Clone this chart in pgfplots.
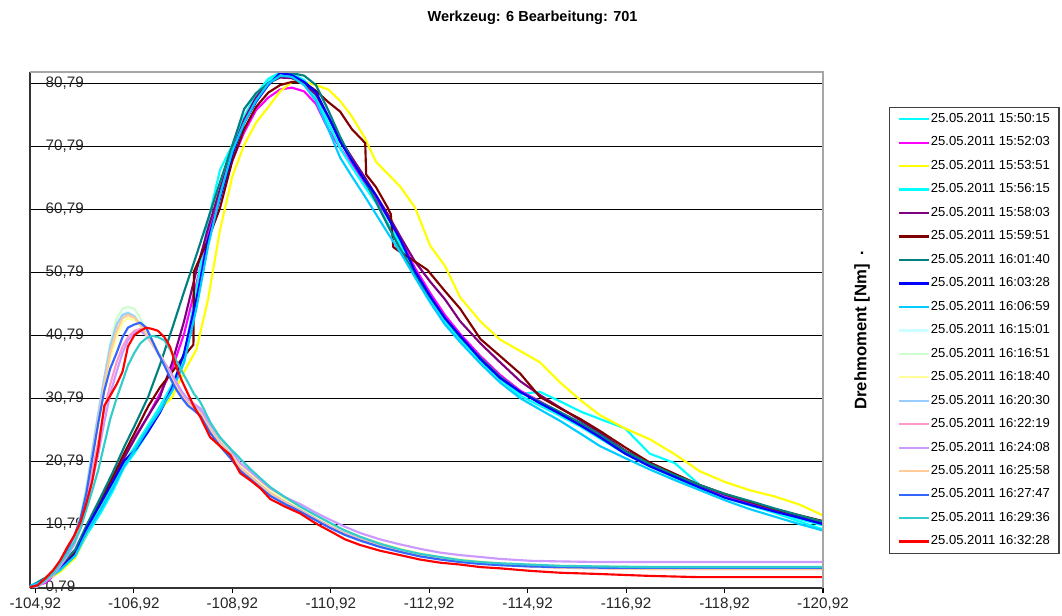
\documentclass[border=0pt]{standalone}
\usepackage{fontspec}
\setmainfont{Liberation Sans}
\usepackage{pgfplots}
\usepackage{pgfplotstable}
\pgfplotsset{compat=1.18}

\definecolor{cA}{HTML}{00FFFF}
\definecolor{cMag}{HTML}{FF00FF}
\definecolor{cYel}{HTML}{FFFF00}
\definecolor{cB}{HTML}{00FFFF}
\definecolor{cPur}{HTML}{800080}
\definecolor{cDred}{HTML}{800000}
\definecolor{cTeal}{HTML}{008080}
\definecolor{cBlue}{HTML}{0000FF}
\definecolor{cSky}{HTML}{00CCFF}
\definecolor{cLcyan}{HTML}{CCFFFF}
\definecolor{cLgreen}{HTML}{CCFFCC}
\definecolor{cLyel}{HTML}{FFFF99}
\definecolor{cLblue}{HTML}{99CCFF}
\definecolor{cPink}{HTML}{FF99CC}
\definecolor{cLav}{HTML}{CC99FF}
\definecolor{cPeach}{HTML}{FFCC99}
\definecolor{cRoyal}{HTML}{3366FF}
\definecolor{cTurq}{HTML}{33CCCC}
\definecolor{cRed}{HTML}{FF0000}

\pgfplotstableread{
x cyanA magenta yellow cyanB purple teal blue sky
-104.81 0.9 0.6 0.8 1.0 0.8 0.9 0.8 1.0
-105.12 1.8 1.5 1.9 2.0 2.1 2.3 2.0 1.9
-105.42 3.4 3.5 3.2 3.6 3.9 4.2 3.8 3.5
-105.73 5.6 6.0 5.5 5.8 6.3 6.8 6.0 5.8
-105.97 9.2 10.2 9.5 9.8 10.5 10.8 10.3 9.6
-106.24 12.5 14.0 13.5 13.2 14.3 15.0 14.0 13.0
-106.49 16.0 17.8 17.0 16.8 17.8 19.0 17.5 16.5
-106.72 19.8 21.5 20.5 20.5 21.3 23.0 20.8 20.0
-106.97 22.5 25.0 23.5 23.5 24.8 27.0 22.8 23.0
-107.21 25.5 28.0 26.5 26.5 28.0 31.0 25.5 26.0
-107.45 28.8 31.5 29.0 29.5 31.0 36.1 28.5 28.8
-107.70 32.0 35.5 31.0 33.0 36.5 41.9 32.5 32.0
-107.94 36.5 41.0 35.0 37.5 43.0 47.7 38.0 36.5
-108.19 46.0 49.0 38.5 48.0 51.0 53.5 46.5 45.0
-108.43 56.5 56.5 46.6 59.0 57.8 59.3 56.0 55.0
-108.67 63.5 63.0 57.5 67.0 64.0 65.1 62.5 63.0
-108.92 69.5 68.5 66.0 71.0 70.0 70.9 69.5 70.0
-109.16 74.5 73.0 71.0 75.5 75.0 76.7 74.5 74.5
-109.40 78.3 76.5 74.5 79.0 78.5 79.2 77.8 78.0
-109.65 81.0 78.5 77.0 81.5 80.8 80.7 80.5 80.7
-109.89 82.4 79.8 79.5 82.5 81.7 81.9 82.4 82.0
-110.13 82.2 80.1 81.0 82.3 81.6 82.4 82.1 81.8
-110.38 81.0 79.5 81.0 81.3 80.7 82.0 81.0 80.5
-110.62 78.5 77.5 80.5 79.0 79.0 80.5 79.4 78.0
-110.87 74.5 73.5 79.8 74.5 75.5 76.5 75.5 73.5
-111.11 70.5 70.5 78.0 70.5 72.0 72.3 71.5 69.0
-111.35 67.5 68.0 75.5 67.5 69.0 68.5 68.5 66.0
-111.60 64.8 65.2 72.3 64.5 66.0 65.5 65.5 63.0
-111.84 62.0 62.5 68.3 61.8 63.0 62.0 63.0 60.0
-112.08 58.5 59.5 66.4 58.5 60.0 58.2 59.5 57.0
-112.33 55.5 56.2 64.4 55.0 56.5 54.5 56.0 54.0
-112.63 51.0 51.5 61.1 50.5 52.5 50.5 51.0 50.0
-112.94 47.0 47.5 55.0 46.5 49.3 46.8 47.0 46.0
-113.24 43.3 44.0 51.8 43.0 46.5 43.5 43.5 42.5
-113.55 40.5 41.0 46.8 40.2 43.0 40.5 40.7 39.7
-113.96 37.0 37.5 43.0 36.8 39.5 37.2 37.0 36.3
-114.36 34.0 34.5 40.1 33.8 36.5 34.2 34.0 33.3
-114.77 31.5 32.0 38.3 31.2 33.5 31.8 31.8 30.8
-115.17 31.8 30.3 36.5 29.6 31.3 30.2 30.0 29.0
-115.58 30.3 28.5 33.3 28.0 29.3 28.6 28.3 27.2
-115.99 28.7 26.8 30.5 26.3 27.3 26.9 26.5 25.2
-116.39 27.5 24.7 28.1 24.4 25.3 25.0 24.6 23.2
-116.90 26.0 22.2 26.0 22.0 22.5 22.4 22.0 21.3
-117.40 22.0 20.2 24.3 20.0 20.5 20.4 20.0 19.5
-117.91 20.5 18.5 21.9 18.2 18.7 18.6 18.3 17.8
-118.42 17.0 16.8 19.2 16.5 17.0 17.0 16.6 16.2
-118.93 15.2 15.2 17.5 15.0 15.5 15.6 15.0 14.6
-119.43 13.8 14.0 16.2 13.8 14.3 14.5 13.9 13.2
-119.94 12.6 12.9 15.2 12.7 13.2 13.3 12.8 12.0
-120.45 11.2 11.9 13.9 11.6 12.1 12.2 11.8 10.8
-120.92 10.0 10.9 12.2 10.6 11.1 11.2 10.8 9.8
}\groupA

\pgfplotstableread{
x y
-104.81 0.8
-105.12 2.2
-105.42 4.0
-105.73 6.5
-105.97 10.5
-106.24 14.5
-106.49 18.3
-106.72 22.0
-106.97 25.8
-107.21 29.5
-107.45 32.5
-107.70 35.0
-107.94 37.5
-108.13 39.3
-108.14 50.9
-108.43 56.0
-108.67 61.0
-108.92 68.5
-109.16 73.5
-109.40 77.0
-109.65 79.3
-109.89 80.5
-110.13 81.0
-110.38 80.9
-110.62 79.6
-110.87 77.8
-111.11 76.3
-111.35 73.5
-111.62 71.3
-111.64 66.3
-111.84 64.3
-112.08 61.0
-112.14 60.0
-112.19 54.8
-112.33 54.0
-112.63 52.5
-112.88 51.2
-113.24 47.8
-113.55 45.0
-113.96 40.2
-114.36 37.5
-114.77 34.7
-115.17 31.0
-115.58 29.2
-115.99 27.5
-116.39 25.6
-116.90 23.0
-117.40 20.6
-117.91 18.8
-118.42 17.0
-118.93 15.6
-119.43 14.4
-119.94 13.2
-120.45 12.2
-120.92 11.3
}\darkred

\pgfplotstableread{
x lcyan lgreen lyel lblue pink lav peach royal turq red
-104.81 0.8 0.9 0.8 0.8 0.7 0.8 0.8 0.9 0.8 0.8
-104.96 1.0 1.1 1.0 1.0 0.9 0.9 1.0 1.1 1.0 1.1
-105.12 2.0 2.2 1.9 2.0 1.8 1.7 2.0 2.1 1.9 2.2
-105.28 3.2 3.4 3.0 3.2 2.9 2.8 3.2 3.3 3.0 3.5
-105.42 4.8 5.0 4.5 4.8 4.3 4.1 4.7 5.0 4.5 5.0
-105.57 6.5 6.8 6.2 6.5 6.0 5.8 6.5 6.8 6.2 7.2
-105.71 8.5 8.8 8.2 8.5 8.0 7.6 8.5 9.0 8.0 9.0
-105.83 11.5 12.0 11.0 11.5 10.5 10.0 11.3 11.5 10.0 11.0
-105.95 16.0 16.5 15.2 16.0 14.5 13.5 15.5 15.5 13.0 14.0
-106.07 22.0 22.5 20.5 22.0 19.0 17.5 21.0 21.0 16.0 17.5
-106.20 28.5 28.5 26.5 28.5 24.0 22.0 27.5 27.0 19.5 23.0
-106.32 34.0 34.0 32.0 34.0 29.0 27.0 33.0 32.0 23.5 29.6
-106.44 39.0 39.5 37.0 39.0 33.0 31.5 38.0 35.5 27.5 31.2
-106.57 42.5 43.5 40.5 42.5 36.5 35.0 41.5 38.0 30.8 33.0
-106.69 44.2 45.0 42.8 44.0 39.0 38.0 43.5 40.5 33.5 35.0
-106.80 44.5 45.3 43.5 44.3 40.5 40.0 44.0 42.0 36.0 39.0
-106.93 43.8 45.0 43.2 43.8 41.5 41.2 43.6 42.5 38.0 40.8
-107.05 42.5 43.5 42.3 42.5 41.8 41.5 42.5 42.8 39.5 41.5
-107.17 41.0 41.8 41.0 41.0 41.0 40.8 41.0 42.0 40.3 42.0
-107.29 39.5 40.0 39.6 39.5 39.5 39.5 39.5 40.0 40.7 41.8
-107.41 38.0 38.3 38.2 38.0 38.0 38.0 38.0 38.0 40.5 41.5
-107.54 36.3 36.5 36.6 36.3 36.3 36.5 36.2 36.0 40.0 40.5
-107.66 34.5 34.7 35.0 34.5 34.6 35.0 34.4 34.0 38.5 38.9
-107.78 32.8 33.0 33.3 32.5 32.8 33.4 32.6 32.2 36.8 35.8
-107.90 31.3 31.5 31.7 31.0 31.2 31.8 31.0 30.8 35.0 33.5
-108.02 30.2 30.3 30.5 30.0 30.0 30.6 29.9 29.6 33.3 31.5
-108.14 29.5 29.6 29.8 29.6 29.4 29.9 29.3 28.9 31.5 29.5
-108.27 28.6 28.8 29.0 28.8 28.5 29.2 28.4 28.0 30.2 27.8
-108.47 26.0 26.2 26.5 26.0 25.8 26.7 25.8 25.3 27.0 24.6
-108.67 23.8 24.0 24.3 23.8 23.6 24.5 23.6 23.2 24.6 23.2
-108.88 22.0 22.2 22.5 22.0 21.8 22.7 21.8 21.3 22.8 21.8
-109.08 19.8 20.0 20.3 19.6 19.7 20.5 19.6 19.3 21.2 18.9
-109.28 18.5 18.6 18.9 18.4 18.4 19.2 18.3 18.0 19.6 17.8
-109.49 17.1 17.2 17.5 17.0 17.0 17.8 16.9 16.6 18.1 16.5
-109.69 15.8 15.9 16.2 15.6 15.7 16.5 15.6 15.3 16.7 14.8
-109.99 14.4 14.5 14.8 14.3 14.3 15.1 14.2 14.0 15.1 13.6
-110.30 13.1 13.2 13.5 13.0 13.0 14.0 12.9 12.8 13.6 12.5
-110.60 11.8 11.9 12.2 11.7 11.7 12.7 11.6 11.5 12.3 11.0
-110.91 10.5 10.6 10.9 10.4 10.4 11.5 10.3 10.2 11.0 9.7
-111.21 9.4 9.5 9.8 9.3 9.3 10.4 9.2 9.1 9.8 8.4
-111.52 8.5 8.6 8.8 8.4 8.4 9.4 8.3 8.2 8.8 7.5
-111.92 7.5 7.6 7.8 7.4 7.4 8.4 7.3 7.2 7.7 6.6
-112.33 6.7 6.8 6.9 6.6 6.6 7.6 6.5 6.4 6.8 5.9
-112.73 6.0 6.1 6.2 5.9 5.9 6.9 5.8 5.7 6.1 5.2
-113.14 5.5 5.5 5.6 5.4 5.3 6.3 5.3 5.2 5.6 4.7
-113.55 5.1 5.1 5.2 5.0 4.9 5.9 4.9 4.8 5.1 4.4
-113.96 4.8 4.8 4.9 4.7 4.6 5.6 4.6 4.5 4.8 4.0
-114.36 4.6 4.5 4.6 4.5 4.4 5.3 4.4 4.3 4.6 3.8
-114.97 4.3 4.3 4.4 4.2 4.1 5.0 4.1 4.1 4.4 3.4
-115.58 4.2 4.1 4.2 4.0 3.9 4.9 3.9 4.0 4.2 3.1
-116.39 4.1 4.0 4.1 3.9 3.8 4.8 3.8 3.9 4.1 2.9
-117.40 4.1 4.0 4.0 3.8 3.7 4.8 3.7 3.9 4.0 2.6
-118.42 4.1 4.0 4.0 3.8 3.7 4.8 3.7 3.9 4.0 2.4
-119.64 4.1 4.0 4.0 3.8 3.7 4.8 3.7 3.9 4.0 2.4
-120.92 4.1 4.0 4.0 3.8 3.7 4.8 3.7 3.9 4.0 2.4
}\groupB

\begin{document}
\begin{tikzpicture}
\useasboundingbox (0,0) rectangle (796.5pt,462pt);
\begin{axis}[
  at={(22.5pt,21pt)}, anchor=south west,
  scale only axis, width=594.75pt, height=387pt,
  x dir=reverse, xmin=-120.92, xmax=-104.81,
  ymin=0.68, ymax=82.58,
  xtick={-104.92,-106.92,-108.92,-110.92,-112.92,-114.92,-116.92,-118.92,-120.92},
  xticklabels={{-104,92},{-106,92},{-108,92},{-110,92},{-112,92},{-114,92},{-116,92},{-118,92},{-120,92}},
  ytick={0.79,10.79,20.79,30.79,40.79,50.79,60.79,70.79,80.79},
  yticklabels={{0,79},{10,79},{20,79},{30,79},{40,79},{50,79},{60,79},{70,79},{80,79}},
  ymajorgrids, grid style={black, line width=0.9pt},
  axis x line*=bottom, axis y line*=left,
  axis line style={black!80, line width=1pt},
  tick align=outside,
  x tick style={black, line width=0.8pt},
  major tick length=3.75pt,
  y tick style={draw=none},
  tick label style={font=\fontsize{11.4}{13}\selectfont, text=black!85},
  yticklabel style={anchor=west, xshift=12pt},
  legend style={at={(1.0832,0.9322)}, anchor=north west, draw=black!75, line width=0.9pt,
    font=\fontsize{9.8}{11}\selectfont, inner xsep=6pt, inner ysep=4pt, row sep=8.2pt,
    nodes={inner xsep=0.8pt, inner ysep=0pt, text height=7.2pt, text depth=2.2pt}},
  legend cell align=left,
  legend image code/.code={\draw[#1, line width=1.7pt] (0pt,0pt) -- (22.5pt,0pt);},
  every axis plot/.append style={line width=1.6pt, line join=round},
]
\addplot[color=cA] table[x=x,y=cyanA]{\groupA};
\addlegendentry{25.05.2011 15:50:15}
\addplot[color=cMag] table[x=x,y=magenta]{\groupA};
\addlegendentry{25.05.2011 15:52:03}
\addplot[color=cYel] table[x=x,y=yellow]{\groupA};
\addlegendentry{25.05.2011 15:53:51}
\addplot[color=cB] table[x=x,y=cyanB]{\groupA};
\addlegendentry{25.05.2011 15:56:15}
\addplot[color=cPur] table[x=x,y=purple]{\groupA};
\addlegendentry{25.05.2011 15:58:03}
\addplot[color=cDred] table[x=x,y=y]{\darkred};
\addlegendentry{25.05.2011 15:59:51}
\addplot[color=cTeal] table[x=x,y=teal]{\groupA};
\addlegendentry{25.05.2011 16:01:40}
\addplot[color=cBlue] table[x=x,y=blue]{\groupA};
\addlegendentry{25.05.2011 16:03:28}
\addplot[color=cSky] table[x=x,y=sky]{\groupA};
\addlegendentry{25.05.2011 16:06:59}
\addplot[color=cLcyan] table[x=x,y=lcyan]{\groupB};
\addlegendentry{25.05.2011 16:15:01}
\addplot[color=cLgreen] table[x=x,y=lgreen]{\groupB};
\addlegendentry{25.05.2011 16:16:51}
\addplot[color=cLyel] table[x=x,y=lyel]{\groupB};
\addlegendentry{25.05.2011 16:18:40}
\addplot[color=cLblue] table[x=x,y=lblue]{\groupB};
\addlegendentry{25.05.2011 16:20:30}
\addplot[color=cPink] table[x=x,y=pink]{\groupB};
\addlegendentry{25.05.2011 16:22:19}
\addplot[color=cLav] table[x=x,y=lav]{\groupB};
\addlegendentry{25.05.2011 16:24:08}
\addplot[color=cPeach] table[x=x,y=peach]{\groupB};
\addlegendentry{25.05.2011 16:25:58}
\addplot[color=cRoyal] table[x=x,y=royal]{\groupB};
\addlegendentry{25.05.2011 16:27:47}
\addplot[color=cTurq] table[x=x,y=turq]{\groupB};
\addlegendentry{25.05.2011 16:29:36}
\addplot[color=cRed] table[x=x,y=red]{\groupB};
\addlegendentry{25.05.2011 16:32:28}
\end{axis}
\draw[black!35, line width=0.8pt] (22.5pt,408pt) -- (617.25pt,408pt) -- (617.25pt,21pt);
\node[font=\bfseries\fontsize{10.9}{13}\selectfont] at (399.4pt,448.5pt) {Werkzeug: 6 Bearbeitung: 701};
\node[rotate=90, font=\bfseries\fontsize{12.5}{14}\selectfont] at (646.5pt,209.25pt) {Drehmoment [Nm]};
\node[font=\bfseries\fontsize{12}{14}\selectfont] at (646.5pt,272pt) {.};
\end{tikzpicture}
\end{document}
